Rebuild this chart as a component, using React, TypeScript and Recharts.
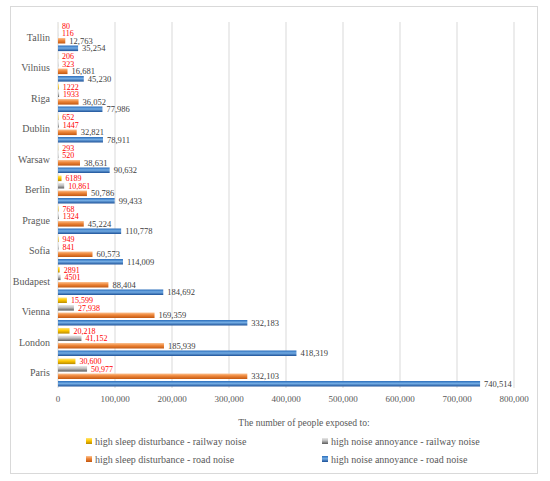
import React from 'react';
import { BarChart, Bar, XAxis, YAxis, CartesianGrid, LabelList, Legend, Label } from 'recharts';

const cities = ['Tallin', 'Vilnius', 'Riga', 'Dublin', 'Warsaw', 'Berlin', 'Prague', 'Sofia', 'Budapest', 'Vienna', 'London', 'Paris'];
const sleepRailway = [80, 206, 1222, 652, 293, 6189, 768, 949, 2891, 15599, 20218, 30600];
const annoyRailway = [116, 323, 1933, 1447, 520, 10861, 1324, 841, 4501, 27938, 41152, 50977];
const sleepRoad = [12763, 16681, 36052, 32821, 38631, 50786, 45224, 60573, 88404, 169359, 185939, 332103];
const annoyRoad = [35254, 45230, 77986, 78911, 90632, 99433, 110778, 114009, 184692, 332183, 418319, 740514];
const xTicks = [0, 100000, 200000, 300000, 400000, 500000, 600000, 700000, 800000];
const seriesNames = [
  'high sleep disturbance - railway noise',
  'high noise annoyance - railway noise',
  'high sleep disturbance - road noise',
  'high noise annoyance - road noise',
];
const axisTitle = 'The number of people exposed to:';

const data = cities.map((city, i) => ({
  city,
  sr: sleepRailway[i],
  ar: annoyRailway[i],
  sd: sleepRoad[i],
  ad: annoyRoad[i],
}));

const FONT = '"Liberation Serif", "DejaVu Serif", serif';
const fmtTick = (v: number) => v.toLocaleString('en-US');
const fmtLabel = (v: any) => (Number(v) >= 10000 ? Number(v).toLocaleString('en-US') : String(v));

const Gradients = () => (
  <svg width={0} height={0} style={{ position: 'absolute' }}>
    <defs>
      <linearGradient id="gYellow" x1="0" y1="0" x2="0" y2="1">
        <stop offset="0%" stopColor="#FFE57A" />
        <stop offset="45%" stopColor="#FFC800" />
        <stop offset="100%" stopColor="#B88A00" />
      </linearGradient>
      <linearGradient id="gGray" x1="0" y1="0" x2="0" y2="1">
        <stop offset="0%" stopColor="#E8E8E8" />
        <stop offset="45%" stopColor="#BDBDBD" />
        <stop offset="100%" stopColor="#5A5A5A" />
      </linearGradient>
      <linearGradient id="gOrange" x1="0" y1="0" x2="0" y2="1">
        <stop offset="0%" stopColor="#FBC495" />
        <stop offset="40%" stopColor="#F08A3E" />
        <stop offset="100%" stopColor="#C2560E" />
      </linearGradient>
      <linearGradient id="gBlue" x1="0" y1="0" x2="0" y2="1">
        <stop offset="0%" stopColor="#2A6DBB" />
        <stop offset="45%" stopColor="#72ABE3" />
        <stop offset="100%" stopColor="#1B4F96" />
      </linearGradient>
    </defs>
  </svg>
);

const LegendContent = (props: any) => {
  const payload = [...(props.payload || [])].sort(
    (a: any, b: any) => seriesNames.indexOf(a.value) - seriesNames.indexOf(b.value)
  );
  const cols = [86, 322];
  const rows = [0, 18];
  return (
    <div style={{ position: 'relative', width: 550, height: 36 }}>
      {payload.map((entry: any, i: number) => (
        <div
          key={i}
          style={{
            position: 'absolute',
            left: cols[i % 2],
            top: rows[Math.floor(i / 2)],
            height: 18,
            display: 'flex',
            alignItems: 'center',
            whiteSpace: 'nowrap',
            fontFamily: FONT,
            fontSize: 10,
            color: '#595959',
          }}
        >
          <svg width={6} height={6} style={{ marginRight: 3 }}>
            <rect x={0} y={0} width={6} height={6} fill={entry.color} />
          </svg>
          <span>{entry.value}</span>
        </div>
      ))}
    </div>
  );
};

export default function App() {
  return (
    <div style={{ position: 'absolute', left: 0, top: 0, width: 550, height: 481, background: '#fff', fontFamily: FONT }}>
      <Gradients />
      <div
        style={{
          position: 'absolute',
          left: 10,
          top: 6,
          width: 528,
          height: 468,
          boxSizing: 'border-box',
          border: '1px solid #d9d9d9',
        }}
      />
      <div style={{ position: 'absolute', left: 0, top: 0 }}>
        <BarChart
          width={550}
          height={481}
          data={data}
          layout="vertical"
          margin={{ top: 22, right: 36, left: 8, bottom: 13 }}
          barSize={5.6}
          barGap={1.9}
        >
          <CartesianGrid horizontal={false} stroke="#d9d9d9" />
          <XAxis
            type="number"
            domain={[0, 800000]}
            ticks={xTicks}
            tickFormatter={fmtTick}
            axisLine={false}
            tickLine={false}
            height={44}
            tick={{ fontSize: 9, fill: '#595959', fontFamily: FONT }}
          >
            <Label
              content={(p: any) => {
                const vb = p.viewBox || {};
                return (
                  <text
                    x={vb.x + vb.width / 2 + 18}
                    y={425.5}
                    textAnchor="middle"
                    fontSize={9.6}
                    fill="#595959"
                    fontFamily={FONT}
                  >
                    {axisTitle}
                  </text>
                );
              }}
            />
          </XAxis>
          <YAxis
            type="category"
            dataKey="city"
            width={50}
            axisLine={false}
            tickLine={false}
            tick={{ fontSize: 10, fill: '#595959', fontFamily: FONT }}
          />
          <Legend verticalAlign="bottom" content={<LegendContent />} wrapperStyle={{ left: 0, width: 550, height: 36 }} />
          <Bar dataKey="sr" name={seriesNames[0]} fill="url(#gYellow)" isAnimationActive={false}>
            <LabelList dataKey="sr" position="right" offset={4} formatter={fmtLabel} fill="#FF0000" fontSize={8} fontFamily={FONT} />
          </Bar>
          <Bar dataKey="ar" name={seriesNames[1]} fill="url(#gGray)" isAnimationActive={false}>
            <LabelList dataKey="ar" position="right" offset={4} formatter={fmtLabel} fill="#FF0000" fontSize={8} fontFamily={FONT} />
          </Bar>
          <Bar dataKey="sd" name={seriesNames[2]} fill="url(#gOrange)" isAnimationActive={false}>
            <LabelList dataKey="sd" position="right" offset={4} formatter={fmtLabel} fill="#404040" fontSize={8.5} fontFamily={FONT} />
          </Bar>
          <Bar dataKey="ad" name={seriesNames[3]} fill="url(#gBlue)" isAnimationActive={false}>
            <LabelList dataKey="ad" position="right" offset={4} formatter={fmtLabel} fill="#404040" fontSize={8.5} fontFamily={FONT} />
          </Bar>
        </BarChart>
      </div>
    </div>
  );
}
